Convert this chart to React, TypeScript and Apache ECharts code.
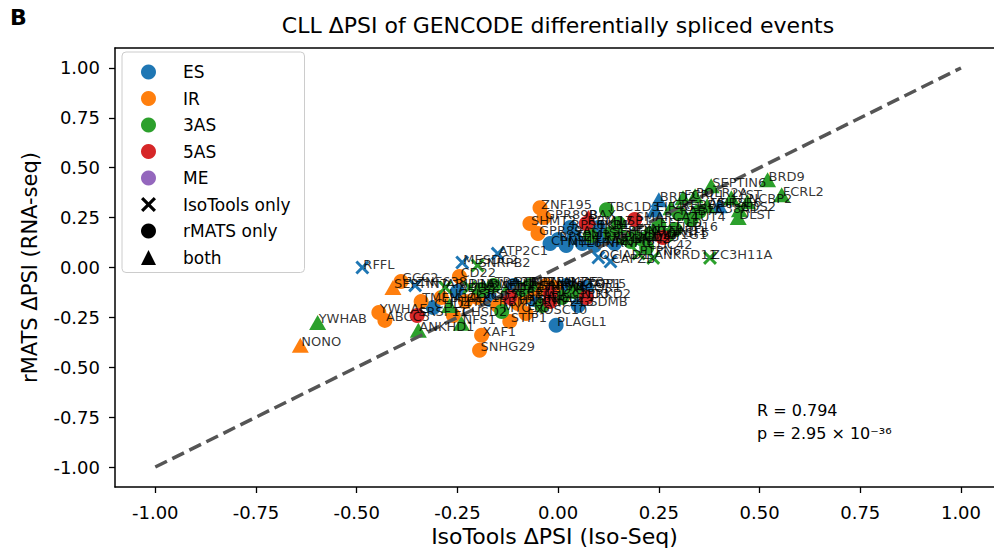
import React, { useEffect, useRef } from "react";
import * as echarts from "echarts";

// [gene, IsoTools ΔPSI, rMATS ΔPSI, event type, detection]
// detection: "iso" = IsoTools only, "rmats" = rMATS only, "both"
type Pt = [string, number, number, string, string];

const outlierPoints: Pt[] = [
  ["RFFL", -0.486, 0.0, "ES", "iso"],
  ["NONO", -0.64, -0.39, "IR", "both"],
  ["YWHAB", -0.597, -0.275, "3AS", "both"],
  ["ABCC5", -0.43, -0.265, "IR", "rmats"],
  ["YWHAE", -0.445, -0.225, "IR", "rmats"],
  ["ANKHD1", -0.347, -0.315, "3AS", "both"],
  ["SEPTIN7", -0.41, -0.1, "IR", "both"],
  ["GCC2", -0.39, -0.07, "IR", "rmats"],
  ["ZNF638", -0.355, -0.09, "ES", "iso"],
  ["CD22", -0.245, -0.045, "IR", "rmats"],
  ["MESDC2", -0.238, 0.025, "ES", "iso"],
  ["SNRPB2", -0.2, 0.01, "3AS", "iso"],
  ["ATP2C1", -0.15, 0.07, "ES", "iso"],
  ["XAF1", -0.19, -0.34, "IR", "rmats"],
  ["SNHG29", -0.195, -0.415, "IR", "rmats"],
  ["PLAGL1", -0.005, -0.29, "ES", "rmats"],
  ["ZC3H11A", 0.377, 0.048, "3AS", "iso"],
];

const lowerBandPoints: Pt[] = [
  ["TMEM14C", -0.34, -0.17, "IR", "rmats"],
  ["SRSF11", -0.35, -0.24, "5AS", "rmats"],
  ["CHD4", -0.31, -0.2, "ES", "rmats"],
  ["LUC7L3", -0.29, -0.15, "IR", "rmats"],
  ["PTPRC", -0.27, -0.19, "3AS", "both"],
  ["FCHSD2", -0.26, -0.24, "IR", "rmats"],
  ["ADD3", -0.25, -0.12, "ES", "rmats"],
  ["ARID1A", -0.28, -0.1, "3AS", "iso"],
  ["CLK1", -0.23, -0.17, "IR", "rmats"],
  ["HNRNPH1", -0.22, -0.1, "3AS", "iso"],
  ["SRSF7", -0.2, -0.15, "IR", "rmats"],
  ["U2AF1", -0.19, -0.11, "3AS", "rmats"],
  ["CD79B", -0.17, -0.16, "ES", "rmats"],
  ["TRA2B", -0.16, -0.09, "3AS", "rmats"],
  ["RBM39", -0.15, -0.19, "IR", "rmats"],
  ["MYO1G", -0.14, -0.22, "3AS", "rmats"],
  ["DDX17", -0.13, -0.12, "3AS", "both"],
  ["SF3B1", -0.12, -0.15, "5AS", "rmats"],
  ["PTBP1", -0.11, -0.09, "ES", "rmats"],
  ["HNRNPA1", -0.1, -0.18, "IR", "rmats"],
  ["SNRNP70", -0.09, -0.11, "3AS", "rmats"],
  ["CELF1", -0.08, -0.14, "IR", "rmats"],
  ["MBNL1", -0.07, -0.09, "3AS", "rmats"],
  ["TIA1", -0.06, -0.16, "ES", "rmats"],
  ["SRRM2", -0.05, -0.11, "IR", "rmats"],
  ["RNF213", -0.04, -0.19, "3AS", "rmats"],
  ["ZFAND5", -0.03, -0.09, "IR", "rmats"],
  ["DDX5", -0.02, -0.13, "5AS", "rmats"],
  ["BCL2", -0.02, -0.17, "5AS", "rmats"],
  ["ARHGAP15", -0.01, -0.1, "IR", "rmats"],
  ["CCND3", 0.01, -0.15, "3AS", "rmats"],
  ["IKZF3", 0.02, -0.09, "ES", "rmats"],
  ["NCOR1", 0.04, -0.12, "3AS", "rmats"],
  ["GSDMB", 0.05, -0.19, "ES", "rmats"],
  ["PRKD2", 0.07, -0.15, "5AS", "rmats"],
  ["TOP1", 0.07, -0.1, "ES", "rmats"],
  ["EXOSC10", -0.08, -0.23, "IR", "rmats"],
  ["STIP1", -0.12, -0.27, "IR", "rmats"],
  ["NFS1", -0.24, -0.28, "3AS", "both"],
];

const upperBandPoints: Pt[] = [
  ["ZNF195", -0.045, 0.3, "IR", "rmats"],
  ["GPR89B", -0.035, 0.25, "IR", "rmats"],
  ["SHMT2", -0.07, 0.22, "IR", "rmats"],
  ["GPR89A", -0.05, 0.17, "IR", "rmats"],
  ["CPNE1", -0.02, 0.12, "ES", "rmats"],
  ["RPS24", 0.0, 0.14, "ES", "rmats"],
  ["MYL6", 0.02, 0.11, "ES", "rmats"],
  ["RPS6KB1", 0.03, 0.2, "ES", "rmats"],
  ["TPM3", 0.04, 0.15, "ES", "rmats"],
  ["EIF4A2", 0.06, 0.12, "ES", "rmats"],
  ["BAX", 0.075, 0.25, "5AS", "both"],
  ["RBM17", 0.07, 0.22, "5AS", "rmats"],
  ["SRSF3", 0.08, 0.16, "3AS", "rmats"],
  ["HNRNPC", 0.09, 0.11, "ES", "rmats"],
  ["PKM", 0.1, 0.2, "ES", "rmats"],
  ["RPL22L1", 0.11, 0.14, "ES", "rmats"],
  ["TBC1D3", 0.12, 0.29, "3AS", "rmats"],
  ["SEPTIN9", 0.13, 0.17, "3AS", "rmats"],
  ["NUMB", 0.14, 0.12, "ES", "rmats"],
  ["LSP1", 0.15, 0.22, "3AS", "rmats"],
  ["ATP5MG", 0.16, 0.15, "3AS", "rmats"],
  ["DNM2", 0.18, 0.13, "3AS", "rmats"],
  ["FYN", 0.19, 0.18, "3AS", "both"],
  ["SMARCA4", 0.19, 0.24, "5AS", "rmats"],
  ["CD46", 0.21, 0.14, "3AS", "rmats"],
  ["CDC42", 0.22, 0.1, "3AS", "rmats"],
  ["CTNND1", 0.23, 0.17, "3AS", "rmats"],
  ["EEF1D", 0.25, 0.21, "3AS", "rmats"],
  ["AP1G1", 0.26, 0.15, "5AS", "rmats"],
  ["SRSF5", 0.27, 0.16, "3AS", "rmats"],
  ["USP16", 0.29, 0.19, "3AS", "rmats"],
  ["RAB7A", 0.3, 0.27, "3AS", "rmats"],
  ["TUT4", 0.33, 0.24, "3AS", "rmats"],
  ["OCIAD1", 0.1, 0.05, "ES", "iso"],
  ["CAPZB", 0.13, 0.03, "ES", "iso"],
  ["PTPN6", 0.2, 0.07, "3AS", "iso"],
  ["ANKRD11", 0.236, 0.048, "3AS", "iso"],
];

const rightClusterPoints: Pt[] = [
  ["BRD2", 0.25, 0.34, "ES", "both"],
  ["EIF4G1", 0.24, 0.29, "ES", "both"],
  ["CREBBP", 0.28, 0.3, "3AS", "both"],
  ["FCRL1", 0.31, 0.35, "3AS", "both"],
  ["POLR2A", 0.34, 0.36, "3AS", "both"],
  ["SLC38A1", 0.35, 0.28, "3AS", "rmats"],
  ["ASH2L", 0.37, 0.31, "3AS", "both"],
  ["SEPTIN6", 0.38, 0.41, "3AS", "both"],
  ["SRSF6", 0.4, 0.31, "ES", "both"],
  ["LYST", 0.43, 0.35, "3AS", "both"],
  ["DLST", 0.447, 0.25, "3AS", "both"],
  ["CDS2", 0.45, 0.29, "3AS", "both"],
  ["NCBP2", 0.47, 0.33, "3AS", "both"],
  ["BRD9", 0.52, 0.44, "3AS", "both"],
  ["FCRL2", 0.555, 0.365, "3AS", "both"],
];

const eventTypes = ["ES", "IR", "3AS", "5AS", "ME"];
const detectionKinds = ["iso", "rmats", "both"];
const detectionLabels = ["IsoTools only", "rMATS only", "both"];
const tickValues = [-1, -0.75, -0.5, -0.25, 0, 0.25, 0.5, 0.75, 1];
const diagonal = [[-1, -1], [1, 1]];
const statR = "0.794";
const statP = "2.95 × 10⁻³⁶";

const FONT = '"DejaVu Sans", Verdana, sans-serif';
const typeColors: Record<string, string> = {
  ES: "#1f77b4",
  IR: "#ff7f0e",
  "3AS": "#2ca02c",
  "5AS": "#d62728",
  ME: "#9467bd",
};
const X_PATH =
  "path://M3,0 L10,7 L17,0 L20,3 L13,10 L20,17 L17,20 L10,13 L3,20 L0,17 L7,10 L0,3 Z";
const detSymbol: Record<string, string> = { iso: X_PATH, rmats: "circle", both: "triangle" };
const detSize: Record<string, number | number[]> = { iso: 14, rmats: 15, both: [17, 15] };

export default function App() {
  const ref = useRef<HTMLDivElement>(null);
  useEffect(() => {
    document.body.style.margin = "0";
    if (!ref.current) return;
    const chart = echarts.init(ref.current, null, { renderer: "svg" });
    const allPoints = [...outlierPoints, ...lowerBandPoints, ...upperBandPoints, ...rightClusterPoints];

    const pointSeries: any[] = [];
    eventTypes.forEach((t) => {
      detectionKinds.forEach((d) => {
        const pts = allPoints.filter((p) => p[3] === t && p[4] === d);
        if (!pts.length) return;
        pointSeries.push({
          type: "scatter",
          name: `${t} ${d}`,
          symbol: detSymbol[d],
          symbolSize: detSize[d],
          itemStyle: { color: typeColors[t], opacity: 1 },
          data: pts.map((p) => ({ name: p[0], value: [p[1], p[2]] })),
          z: 2,
          silent: true,
        });
      });
    });

    const legendSeries = [
      ...eventTypes.map((t) => ({
        type: "scatter",
        name: t,
        data: [],
        itemStyle: { color: typeColors[t], opacity: 1 },
      })),
      ...detectionLabels.map((l) => ({
        type: "scatter",
        name: l,
        data: [],
        itemStyle: { color: "#000", opacity: 1 },
      })),
    ];

    const legendIcons = [
      ...eventTypes.map(() => "circle"),
      X_PATH,
      "circle",
      "triangle",
    ];
    const legendNames = [...eventTypes, ...detectionLabels];

    const axisCommon = (margin: number, min: number, max: number) => ({
      type: "value",
      min,
      max,
      nameLocation: "middle",
      axisLine: { show: true, onZero: false, lineStyle: { color: "#000", width: 1.5 } },
      splitLine: { show: false },
      axisTick: {
        show: true,
        inside: false,
        customValues: tickValues,
        length: 6,
        lineStyle: { color: "#000", width: 1.3 },
      },
      axisLabel: {
        customValues: tickValues,
        formatter: (v: number) => v.toFixed(2),
        fontFamily: FONT,
        fontSize: 18,
        color: "#000",
        margin,
      },
    });

    const option: any = {
      animation: false,
      textStyle: { fontFamily: FONT },
      title: {
        text: "CLL ΔPSI of GENCODE differentially spliced events",
        left: 553,
        textAlign: "center",
        top: 9,
        textStyle: { fontFamily: FONT, fontSize: 22, fontWeight: "normal", color: "#000" },
      },
      grid: {
        left: 115,
        right: 0,
        top: 48,
        bottom: 63,
        show: false,
        containLabel: false,
        outerBoundsMode: "none",
      },
      xAxis: [
        {
          ...axisCommon(16, -1.1, 1.082),
          position: "bottom",
          name: "IsoTools ΔPSI (Iso-Seq)",
          nameGap: 38,
          nameTextStyle: { fontFamily: FONT, fontSize: 22, color: "#000" },
        },
        {
          type: "value",
          position: "top",
          min: -1.1,
          max: 1.082,
          axisLine: { show: true, onZero: false, lineStyle: { color: "#000", width: 1.5 } },
          axisTick: { show: false },
          axisLabel: { show: false },
          splitLine: { show: false },
        },
      ],
      yAxis: {
        ...axisCommon(15, -1.1, 1.1),
        position: "left",
        name: "rMATS ΔPSI (RNA-seq)",
        nameGap: 75,
        nameTextStyle: { fontFamily: FONT, fontSize: 21, color: "#000" },
      },
      legend: {
        data: legendNames.map((n, i) => ({ name: n, icon: legendIcons[i] })),
        orient: "vertical",
        left: 122,
        top: 52,
        itemWidth: 15,
        itemHeight: 15,
        itemGap: 8.5,
        padding: [11, 14, 6, 19],
        backgroundColor: "rgba(255,255,255,0.85)",
        borderColor: "#cccccc",
        borderWidth: 1,
        borderRadius: 4,
        selectedMode: false,
        textStyle: {
          fontFamily: FONT,
          fontSize: 17,
          color: "#000",
          lineHeight: 18,
          padding: [0, 0, 0, 22],
        },
        z: 10,
      },
      graphic: [
        {
          type: "text",
          left: 10,
          top: 6,
          style: { text: "B", fontFamily: FONT, fontSize: 22, fontWeight: "bold", fill: "#000" },
        },
        {
          type: "text",
          left: 757,
          top: 399,
          style: {
            text: `R = ${statR}\np = ${statP}`,
            fontFamily: FONT,
            fontSize: 16,
            lineHeight: 23,
            fill: "#000",
          },
        },
      ],
      series: [
        ...legendSeries,
        ...pointSeries,
        {
          type: "line",
          name: "diagonal",
          data: diagonal,
          symbol: "none",
          lineStyle: { color: "#555555", width: 3.5, type: [13, 6] },
          z: 3,
          silent: true,
        },
        {
          type: "scatter",
          name: "labels",
          symbolSize: 1,
          itemStyle: { color: "rgba(0,0,0,0)" },
          z: 5,
          silent: true,
          data: allPoints.map((p) => ({ name: p[0], value: [p[1], p[2]] })),
          label: {
            show: true,
            formatter: "{b}",
            position: ["50%", "50%"],
            align: "left",
            verticalAlign: "bottom",
            offset: [1, 3],
            fontFamily: FONT,
            fontSize: 13,
            color: "#000",
          },
        },
      ],
    };
    chart.setOption(option);
    return () => chart.dispose();
  }, []);
  return <div ref={ref} style={{ width: 994, height: 550 }} />;
}
